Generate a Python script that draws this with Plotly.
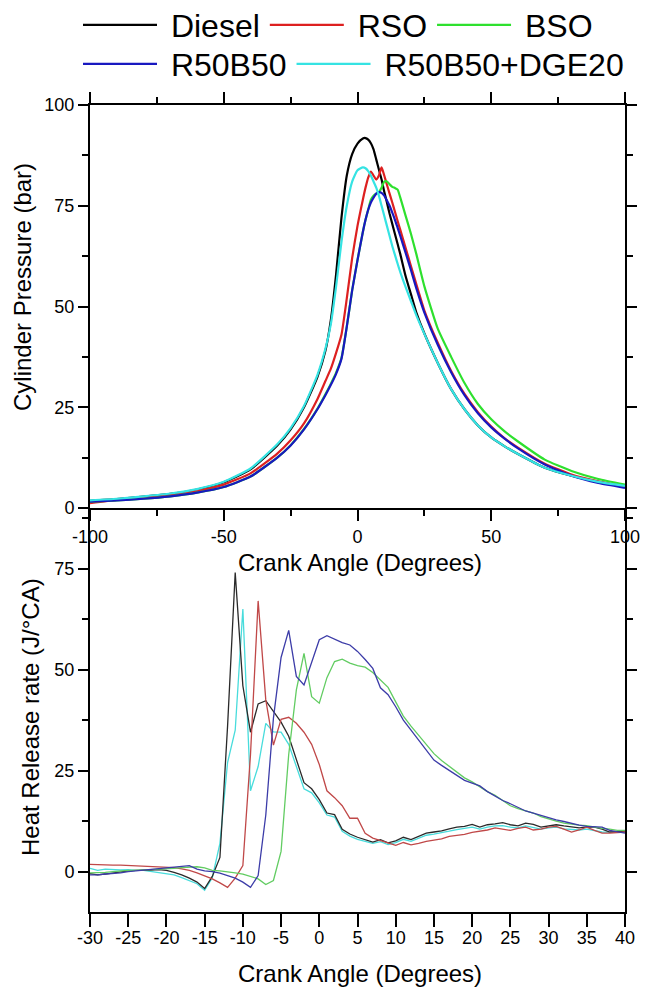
import plotly.graph_objects as go

# ---------------- Cylinder pressure (top panel) ----------------
p_angle = [-100, -90, -80, -70, -60, -50, -40, -30,
           -25, -20, -15, -12, -10, -8, -6, -4, -2, 0,
           2, 3, 4, 5, 6, 7, 8, 9, 10, 11, 12, 13, 14, 15, 16,
           18, 20, 22, 25,
           30, 35, 40, 45, 50, 55, 60,
           70, 80, 90, 100]

p_diesel = [1.8, 2.2, 2.8, 3.5, 4.6, 6.4, 9.6, 15.5,
            19.5, 25, 32.5, 39, 46.5, 58, 72, 82.5, 87.8, 90.4,
            91.7, 91.8, 91.4, 90.5, 89, 86.5, 84, 81.5, 78.5, 75.8, 73, 70.5, 68, 65.5, 63,
            57.5, 53, 48.5, 43.3,
            36, 29.5, 24.5, 20.5, 17.5, 15.3, 13.4,
            10, 8, 6.5, 5.4]

p_rso = [1.2, 2.0, 2.5, 3.2, 4.2, 5.8, 8.6, 13.5,
         16.8, 21, 27, 31.5, 34.5, 38.5, 43, 52, 62, 70,
         76.5, 79.5, 82, 83.5, 82.5, 81.5, 82.5, 84.5, 82.5, 80.2, 78, 75.8, 73.5, 71.2, 69,
         64.5, 60, 55.5, 49,
         41, 34, 28.3, 23.8, 20.2, 17.3, 15,
         11, 8.3, 6.6, 5.3]

p_bso = [1.6, 1.9, 2.3, 2.9, 3.8, 5.2, 7.8, 12.5,
         15.6, 19.6, 24.6, 28.2, 30.8, 33.6, 37.2, 45, 54, 61.5,
         68.5, 71.5, 74, 76.5, 77.5, 78, 78.3, 79.5, 81, 81, 80.3, 79.7, 79.4, 79, 77,
         72.5, 68, 63, 55,
         44.5, 37.5, 31, 25.8, 22, 19, 16.5,
         12, 9.2, 7.2, 5.8]

p_r50b50 = [1.6, 1.9, 2.3, 2.9, 3.8, 5.2, 7.8, 12.5,
            15.5, 19.5, 24.5, 28, 30.5, 33.3, 37, 45, 54, 61.5,
            68.5, 71.5, 74, 75.8, 77, 78, 78.4, 78.2, 77.5, 76.3, 75, 73.3, 71.5, 69.5, 67.5,
            63.3, 59, 54.5, 48.5,
            40.5, 33.7, 28, 23.5, 20, 17.2, 14.8,
            10.8, 8, 6.2, 5.0]

p_dge20 = [1.9, 2.3, 2.9, 3.6, 4.7, 6.5, 9.8, 15.8,
           19.8, 25.3, 33, 39.5, 45.5, 55, 66, 75, 81, 83.8,
           84.5, 84.3, 83.6, 82.5, 81, 79.5, 77.5, 75, 72.5, 70, 67.5, 65, 62.8, 60.6, 58.5,
           54.8, 51.3, 47.8, 43.2,
           36, 29.5, 24.5, 20.5, 17.5, 15.3, 13.4,
           10, 8, 6.5, 5.5]

# ---------------- Heat release rate (bottom panel) ----------------
h_angle = [-30, -29, -28, -27, -26, -25, -24, -23, -22, -21,
           -20, -19, -18, -17, -16, -15, -14, -13, -12, -11,
           -10, -9, -8, -7, -6, -5, -4, -3, -2, -1,
           0, 1, 2, 3, 4, 5, 6, 7, 8, 9,
           10, 11, 12, 13, 14, 15, 16, 17, 18, 19,
           20, 21, 22, 23, 24, 25, 26, 27, 28, 29,
           30, 31, 32, 33, 34, 35, 36, 37, 38, 39, 40]

h_diesel = [-0.5, -0.8, -0.6, -0.3, 0, 0.2, 0.3, 0.3, 0.4, 0.5,
            0.3, -0.2, -0.8, -1.6, -2.6, -4.2, -1.2, 3.5, 36, 74,
            46, 34.5, 41.5, 42.3, 39.6, 37, 33.5, 28, 22, 20.5,
            17.8, 14.5, 14.1, 10.5, 9.3, 8.5, 7.9, 7.3, 7.9, 7.1,
            7.6, 8.5, 7.9, 8.7, 9.5, 9.8, 10.1, 10.6, 11, 11.2,
            11.7, 11, 11.6, 11.8, 12.1, 11.6, 11.3, 12, 11.7, 11,
            11.3, 11.6, 11.3, 11, 10.8, 11, 11, 10.5, 9.8, 9.9, 10]

h_rso = [1.8, 1.7, 1.7, 1.6, 1.6, 1.5, 1.5, 1.4, 1.3, 1.2,
         1.1, 1, 0.7, 0.3, -0.3, -1, -1.8, -2.8, -3.9, -1.6,
         1.5, 29, 67, 42.5, 31.3, 37.7, 38.2, 36.7, 34.5, 31.5,
         26.5, 20, 18.3, 16.3, 13.2, 13.2, 9.5, 8.3, 7.7, 7,
         6.5, 7.2, 6.6, 7, 7.5, 7.8, 8.1, 8.7, 9, 9.2,
         9.7, 10, 10.3, 10.8, 10.5, 10.2, 10.7, 11, 10.3, 10.5,
         11, 11.2, 10.5, 9.8, 10.3, 11, 10.2, 9.5, 9.5, 9.7, 9.8]

h_bso = [-0.3, -0.3, -0.2, 0, 0.2, 0.3, 0.3, 0.4, 0.4, 0.5,
         0.6, 0.8, 1, 1.1, 1.2, 0.9, 0.3, 0.2, 0, -0.3,
         -0.6, -1.2, -1.8, -3.2, -2.2, 5, 29, 45, 54, 43.3,
         41.7, 48, 52, 52.6, 51.6, 51, 50.6, 49.3, 47.5, 45.6,
         42, 38.5, 36, 33.7, 31.3, 29.2, 27.5, 26, 24.5, 23.2,
         22.2, 21, 19.8, 18.9, 17.5, 16.3, 15.6, 15, 14.5, 13.6,
         13, 12.5, 12, 11.7, 11.5, 11.4, 11, 10.7, 10.5, 10.2, 10.2]

h_r50b50 = [-0.8, -0.8, -0.6, -0.5, -0.3, 0, 0.2, 0.4, 0.6, 0.8,
            1, 1.2, 1.4, 1.5, 0.6, 0.2, 0, -0.4, -1, -1.6,
            -2.6, -3.9, -1, 14, 38, 53, 59.7, 48.3, 46.2, 52,
            57.4, 58.4, 57.5, 56.7, 56.1, 54.5, 52.5, 50.3, 45.5, 43.8,
            40.8, 37.5, 35, 32.5, 29.8, 27.6, 26.3, 25, 23.8, 22.6,
            21.9, 21.2, 19.8, 18.6, 17.6, 16.8, 15.8, 15, 14.5, 13.9,
            13.3, 12.8, 12.4, 11.9, 11.5, 11.2, 11.1, 11, 10.2, 9.8, 9.5]

h_dge20 = [0.8, 0.3, 0.6, 0.5, 0.4, 0.5, 0.3, 0.3, 0, -0.2,
           -0.5, -0.8, -1.5, -2.2, -3, -4.6, -1.5, 7, 27, 35,
           65, 20, 26, 36.7, 34.6, 34.5, 31.5, 26, 20.5, 19.5,
           17, 14, 13.5, 10, 8.8, 8, 7.5, 7, 7.4, 6.7,
           7.2, 8, 7.5, 8.3, 9, 9.3, 9.6, 10, 10.4, 10.7,
           11, 10.5, 11, 11.3, 11.4, 11, 10.8, 11.3, 10.9, 10.5,
           10.8, 11, 10.6, 10.5, 10.3, 10.5, 10.2, 9.8, 9.7, 9.7, 9.8]

# ---------------- Tick labels ----------------
top_x_ticks = [-100, -50, 0, 50, 100]
top_x_labels = ["-100", "-50", "0", "50", "100"]
top_y_ticks = [0, 25, 50, 75, 100]
top_y_labels = ["0", "25", "50", "75", "100"]
bot_x_ticks = [-30, -25, -20, -15, -10, -5, 0, 5, 10, 15, 20, 25, 30, 35, 40]
bot_x_labels = ["-30", "-25", "-20", "-15", "-10", "-5", "0", "5", "10",
                "15", "20", "25", "30", "35", "40"]
bot_y_ticks = [0, 25, 50, 75]
bot_y_labels = ["0", "25", "50", "75"]

series_names = ["Diesel", "RSO", "BSO", "R50B50", "R50B50+DGE20"]
top_colors = ["#000000", "#dd2020", "#2ee02e", "#1818c0", "#35e3e3"]
bot_colors = ["#2a2a2a", "#c04848", "#62cc62", "#3c3ca8", "#48dcdc"]
legend_ids = ["legend", "legend", "legend", "legend2", "legend2"]

top_data = [p_diesel, p_rso, p_bso, p_r50b50, p_dge20]
bot_data = [h_diesel, h_rso, h_bso, h_r50b50, h_dge20]

W, H = 646, 988
FONT = "Liberation Sans, Arial, sans-serif"
NBSP = "\u00a0"


def px_x(v):
    return v / W


def px_y(v):
    return 1 - v / H


fig = go.Figure()

for name, ys, col, lg in zip(series_names, top_data, top_colors, legend_ids):
    fig.add_trace(go.Scatter(
        x=p_angle, y=ys, mode="lines", name=NBSP + name, legend=lg,
        line=dict(color=col, width=2.2, shape="spline", smoothing=0.5),
        xaxis="x", yaxis="y"))

order = [4, 0, 1, 2, 3]
for i in order:
    fig.add_trace(go.Scatter(
        x=h_angle, y=bot_data[i], mode="lines", name=series_names[i],
        showlegend=False,
        line=dict(color=bot_colors[i], width=1.3),
        xaxis="x2", yaxis="y2"))

xdom = [px_x(90), px_x(625)]
top_dom = [px_y(508), px_y(105)]
bot_dom = [px_y(912), px_y(508)]

axis_common = dict(showgrid=False, zeroline=False, linecolor="black",
                   linewidth=2, tickcolor="black", tickwidth=2,
                   tickfont=dict(family=FONT, size=18, color="black"))
overlay_common = dict(showline=False, showticklabels=False, showgrid=False,
                      zeroline=False, tickcolor="black", tickwidth=2)

legend_font = dict(family=FONT, size=32, color="black")

fig.update_layout(
    width=W, height=H,
    margin=dict(l=0, r=0, t=0, b=0, autoexpand=False),
    paper_bgcolor="white", plot_bgcolor="rgba(0,0,0,0)",
    font=dict(family=FONT, color="black"),
    # top panel
    xaxis=dict(domain=xdom, anchor="y", range=[-100, 100], tickmode="array",
               tickvals=top_x_ticks, ticktext=top_x_labels,
               ticks="outside", ticklen=11,
               mirror="allticks", showline=True, ticklabelstandoff=0,
               minor=dict(ticks="outside", ticklen=6, tickwidth=2,
                          tickcolor="black", dtick=25, tick0=-100),
               **axis_common),
    yaxis=dict(domain=top_dom, anchor="x", range=[0, 100], tickmode="array",
               tickvals=top_y_ticks, ticktext=top_y_labels,
               ticks="outside", ticklen=10,
               mirror="allticks", showline=True, ticklabelstandoff=0,
               minor=dict(ticks="outside", ticklen=6, tickwidth=2,
                          tickcolor="black", dtick=12.5, tick0=0),
               **axis_common),
    xaxis3=dict(overlaying="x", anchor="y", range=[-100, 100], tickmode="array",
                tickvals=top_x_ticks, ticks="inside", ticklen=11,
                mirror="allticks",
                minor=dict(ticks="inside", ticklen=6, tickwidth=2,
                           tickcolor="black", dtick=25, tick0=-100),
                **overlay_common),
    yaxis3=dict(overlaying="y", anchor="x", range=[0, 100], tickmode="array",
                tickvals=top_y_ticks, ticks="inside", ticklen=10,
                mirror="allticks",
                minor=dict(ticks="inside", ticklen=6, tickwidth=2,
                           tickcolor="black", dtick=12.5, tick0=0),
                **overlay_common),
    # bottom panel
    xaxis2=dict(domain=xdom, anchor="y2", range=[-30, 40], tickmode="array",
                tickvals=bot_x_ticks, ticktext=bot_x_labels,
                ticks="outside", ticklen=13,
                showline=True, ticklabelstandoff=-5, **axis_common),
    yaxis2=dict(domain=bot_dom, anchor="x2", range=[-10, 90], tickmode="array",
                tickvals=bot_y_ticks, ticktext=bot_y_labels,
                ticks="outside", ticklen=10,
                mirror="allticks", showline=True, ticklabelstandoff=0,
                minor=dict(ticks="outside", ticklen=6, tickwidth=2,
                           tickcolor="black", dtick=12.5, tick0=0),
                **axis_common),
    xaxis4=dict(overlaying="x2", anchor="y2", range=[-30, 40], tickmode="array",
                tickvals=bot_x_ticks, ticks="inside", ticklen=13,
                **overlay_common),
    yaxis4=dict(overlaying="y2", anchor="x2", range=[-10, 90], tickmode="array",
                tickvals=bot_y_ticks, ticks="inside", ticklen=10,
                mirror="allticks",
                minor=dict(ticks="inside", ticklen=6, tickwidth=2,
                           tickcolor="black", dtick=12.5, tick0=0),
                **overlay_common),
    legend=dict(orientation="h", x=px_x(78), xanchor="left", y=px_y(25),
                yanchor="middle", itemwidth=74, bgcolor="rgba(0,0,0,0)",
                font=legend_font, tracegroupgap=0, itemclick=False),
    legend2=dict(orientation="h", x=px_x(78), xanchor="left", y=px_y(64),
                 yanchor="middle", itemwidth=74, bgcolor="rgba(0,0,0,0)",
                 font=legend_font, tracegroupgap=0, itemclick=False),
    showlegend=True,
)

title_font = dict(family=FONT, size=24, color="black")
fig.add_annotation(text="Cylinder Pressure (bar)", x=px_x(23), y=px_y(287),
                   xref="paper", yref="paper", textangle=-90, showarrow=False,
                   xanchor="center", yanchor="middle", font=title_font)
fig.add_annotation(text="Heat Release rate (J/°CA)", x=px_x(30), y=px_y(717),
                   xref="paper", yref="paper", textangle=-90, showarrow=False,
                   xanchor="center", yanchor="middle", font=title_font)
fig.add_annotation(text="Crank Angle (Degrees)", x=px_x(360), y=px_y(562),
                   xref="paper", yref="paper", showarrow=False,
                   xanchor="center", yanchor="middle", font=title_font)
fig.add_annotation(text="Crank Angle (Degrees)", x=px_x(360), y=px_y(973),
                   xref="paper", yref="paper", showarrow=False,
                   xanchor="center", yanchor="middle", font=title_font)

fig.write_html("out.html",
               config={"displayModeBar": False},
               post_script="document.body.style.margin='0';"
                           "document.body.style.overflow='hidden';")
